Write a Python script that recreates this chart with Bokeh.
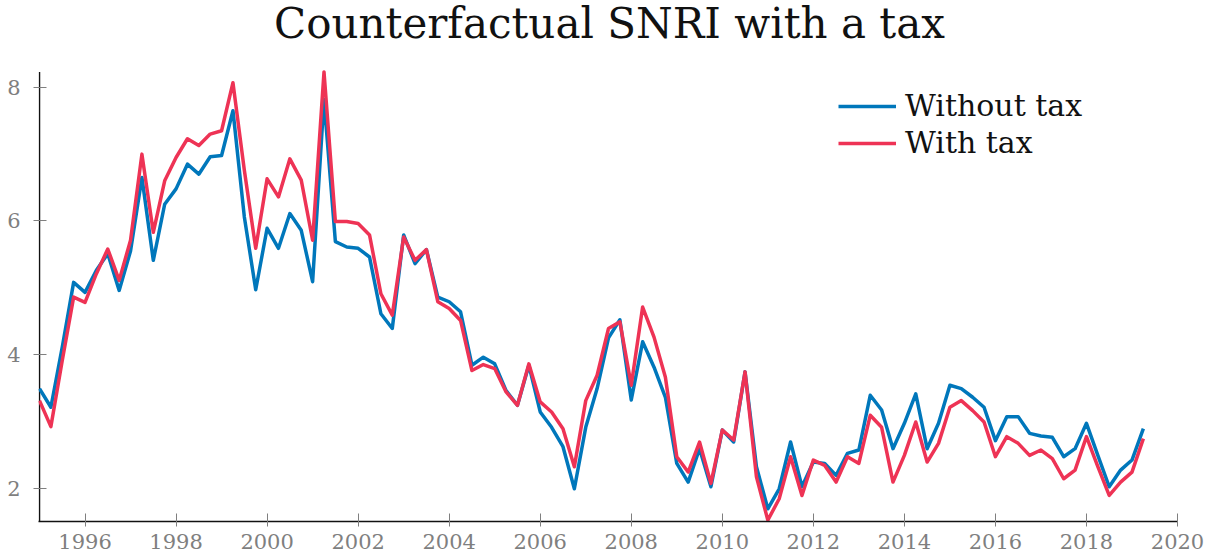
import numpy as np
from bokeh.plotting import figure
from bokeh.models import Range1d, Legend, LegendItem, FixedTicker, Label
from bokeh.embed import file_html
from bokeh.resources import INLINE

# Quarterly observations, 1995Q1 .. 2019Q2
quarters = np.arange(1995.0, 2019.5, 0.25)

without_tax = [
    3.49, 3.21, 4.11, 5.08, 4.93, 5.26, 5.51, 4.96, 5.55, 6.65,
    5.41, 6.25, 6.48, 6.85, 6.70, 6.96, 6.98, 7.65, 6.06, 4.97,
    5.89, 5.59, 6.11, 5.86, 5.09, 7.82, 5.69, 5.61, 5.59, 5.46,
    4.61, 4.39, 5.79, 5.36, 5.57, 4.86, 4.79, 4.64, 3.84, 3.96,
    3.86, 3.46, 3.24, 3.84, 3.14, 2.91, 2.62, 1.99, 2.91, 3.49,
    4.25, 4.52, 3.32, 4.19, 3.81, 3.36, 2.37, 2.09, 2.59, 2.02,
    2.87, 2.69, 3.74, 2.32, 1.69, 1.99, 2.69, 2.02, 2.39, 2.37,
    2.19, 2.52, 2.57, 3.39, 3.17, 2.59, 2.97, 3.41, 2.59, 2.97,
    3.54, 3.49, 3.36, 3.21, 2.71, 3.07, 3.07, 2.82, 2.78, 2.76,
    2.47, 2.59, 2.97, 2.49, 2.02, 2.27, 2.42, 2.89,
]

with_tax = [
    3.31, 2.92, 3.91, 4.86, 4.78, 5.21, 5.58, 5.11, 5.71, 7.00,
    5.83, 6.60, 6.95, 7.23, 7.13, 7.30, 7.35, 8.07, 6.76, 5.59,
    6.63, 6.36, 6.93, 6.61, 5.71, 8.23, 5.99, 5.99, 5.96, 5.79,
    4.91, 4.59, 5.76, 5.41, 5.57, 4.79, 4.69, 4.51, 3.76, 3.85,
    3.79, 3.44, 3.24, 3.86, 3.29, 3.14, 2.89, 2.32, 3.31, 3.69,
    4.39, 4.49, 3.54, 4.71, 4.26, 3.66, 2.47, 2.24, 2.69, 2.07,
    2.87, 2.72, 3.74, 2.17, 1.52, 1.84, 2.47, 1.89, 2.42, 2.34,
    2.09, 2.47, 2.37, 3.09, 2.91, 2.09, 2.49, 2.99, 2.39, 2.67,
    3.21, 3.31, 3.16, 2.99, 2.47, 2.77, 2.67, 2.49, 2.57, 2.44,
    2.14, 2.27, 2.77, 2.32, 1.89, 2.09, 2.24, 2.74,
]

x_ticks = [1996, 1998, 2000, 2002, 2004, 2006, 2008, 2010, 2012, 2014, 2016, 2018, 2020]
y_ticks = [2, 4, 6, 8]
title_text = "Counterfactual SNRI with a tax"

BLUE = "#0077BB"
RED = "#EE3355"
FONT = "DejaVu Serif"

# data extent of the drawn y axis
Y_MIN, Y_MAX = 1.5, 8.23

# the frame extends up to the top of the canvas so the title can sit in it
p = figure(width=1205, height=556, output_backend="svg", toolbar_location=None,
           x_range=Range1d(1995 - 1 / 45.5, 2020), y_range=Range1d(Y_MIN, 9.30),
           min_border_left=38, min_border_right=28, min_border_bottom=35,
           min_border_top=0)

p.grid.visible = False
p.outline_line_color = None
p.background_fill_color = "white"
p.border_fill_color = "white"

for ax in (p.xaxis[0], p.yaxis[0]):
    ax.major_label_text_font = FONT
    ax.major_label_text_font_size = "21px"
    ax.major_label_text_color = "#7f7f7f"
    ax.major_tick_line_color = "#7f7f7f"
    ax.minor_tick_line_color = None
    ax.axis_line_color = "#111111"
    ax.axis_line_width = 1.5
    ax.major_tick_in = 8
    ax.major_tick_out = 5

p.yaxis[0].axis_line_color = None
p.xaxis[0].major_label_standoff = 7
p.yaxis[0].major_label_standoff = 13
p.xaxis[0].ticker = FixedTicker(ticks=x_ticks)
p.yaxis[0].ticker = FixedTicker(ticks=y_ticks)

# left axis line, only over the data extent
p.segment(x0=[1995], y0=[Y_MIN], x1=[1995], y1=[Y_MAX], line_color="#111111", line_width=1.5)

r1 = p.line(quarters, without_tax, line_color=BLUE, line_width=3.5, line_join="round")
r2 = p.line(quarters, with_tax, line_color=RED, line_width=3.5, line_join="round")

legend = Legend(items=[LegendItem(label="Without tax", renderers=[r1]),
                       LegendItem(label="With tax", renderers=[r2])],
                location=(800, 361), padding=0, margin=0, spacing=2,
                glyph_width=58, label_standoff=9,
                label_text_font=FONT, label_text_font_size="30px",
                label_text_color="#111111",
                border_line_color=None, background_fill_alpha=0)
p.add_layout(legend)

title = Label(x=571, y=498, x_units="screen", y_units="screen", text=title_text,
              text_font=FONT, text_font_size="42px", text_color="#111111",
              text_align="center", text_baseline="alphabetic")
p.add_layout(title)

open("out.html", "w").write(file_html(p, INLINE))
